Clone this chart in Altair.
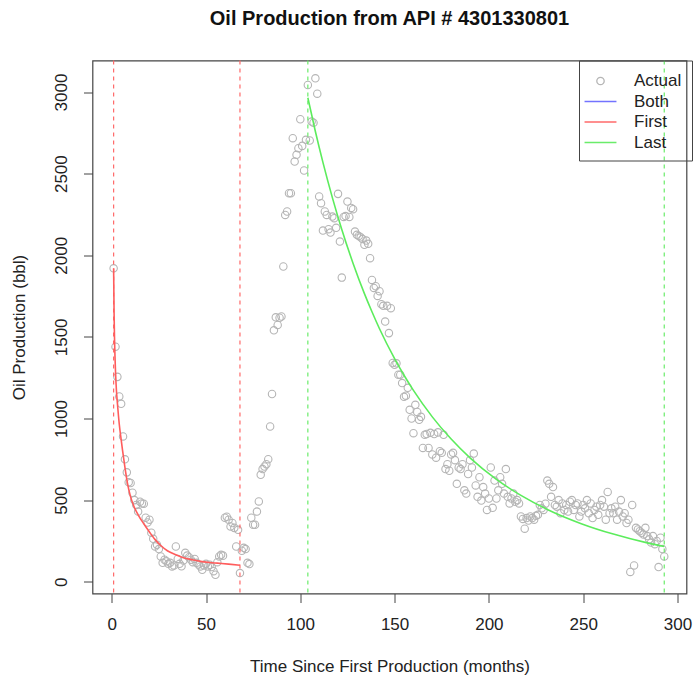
import altair as alt
import pandas as pd

# ---------------- data ----------------
oil = [
    1920, 1440, 1255, 1135, 1090, 890, 750, 670, 610, 605,
    545, 500, 470, 430, 490, 480, 478, 392, 363, 380,
    300, 263, 216, 227, 200, 155, 116, 135, 125, 110,
    116, 94, 100, 216, 140, 110, 95, 130, 177, 160,
    150, 135, 120, 140, 116, 105, 94, 73, 100, 110,
    94, 104, 90, 65, 43, 120, 155, 165, 160, 392,
    398, 380, 339, 360, 330, 216, 318, 53, 190, 208,
    200, 116, 108, 392, 349, 349, 430, 492, 655, 690,
    706, 720, 751, 951, 1150, 1540, 1620, 1573, 1617, 1625,
    1931, 2247, 2268, 2380, 2380, 2717, 2574, 2615, 2656, 2833,
    2670, 2519, 2707, 3043, 2703, 2819, 2812, 3084, 2990, 2360,
    2319, 2151, 2268, 2247, 2160, 2139, 2237, 2227, 2168, 2376,
    2084, 1863, 2235, 2240, 2329, 2235, 2290, 2282, 2145, 2125,
    2118, 2110, 2100, 2064, 2090, 2070, 1982, 1849, 1800, 1810,
    1751, 1780, 1700, 1690, 1594, 1690, 1523, 1676, 1340, 1329,
    1338, 1268, 1268, 1217, 1133, 1140, 1188, 1053, 1000, 910,
    1084, 1040, 992, 1010, 820, 900, 905, 820, 912, 780,
    905, 760, 915, 800, 790, 900, 690, 720, 680, 780,
    790, 745, 600, 700, 690, 720, 560, 540, 660, 745,
    700, 785, 590, 520, 640, 497, 580, 540, 440, 510,
    700, 453, 620, 510, 560, 640, 600, 540, 690, 520,
    480, 510, 540, 490, 500, 480, 400, 385, 325, 390,
    375, 400, 390, 380, 404, 410, 470, 450, 440, 478,
    620, 600, 520, 580, 470, 460, 500, 420, 480, 440,
    470, 430, 490, 500, 440, 470, 480, 400, 430, 470,
    450, 500, 420, 480, 390, 440, 460, 410, 470, 500,
    460, 380, 550, 420, 450, 420, 460, 380, 430, 500,
    400, 420, 360, 380, 60, 470, 100, 330, 320, 310,
    300, 290, 330, 280, 260, 240, 280, 230, 250, 90,
    270, 200, 155,
]
months = list(range(1, len(oil) + 1))

# fitted decline curve of the first segment
first_t = [1, 1.25, 1.5, 2, 2.5, 3, 4, 5, 5.7, 7, 8.3, 10, 11.8, 14, 17,
           20, 23, 26, 29.5, 34, 38, 43, 47, 52, 56, 62, 68]
first_q = [1920, 1640, 1480, 1290, 1170, 1095, 965, 870, 808, 700, 606, 520,
           461, 410, 355, 305, 258, 222, 190, 165, 147, 134, 125, 118, 114,
           108, 101]

# fitted decline curve of the last segment
last_t = [104, 108, 112, 117, 122, 128, 134, 138, 142, 150, 155, 160, 170,
          180, 190, 204, 217, 231, 249, 266, 284, 293]
last_q = [2965, 2758, 2569, 2353, 2158, 1950, 1765, 1654, 1550, 1367, 1265,
          1172, 1010, 874, 759, 627, 529, 443, 356, 292, 238, 216]

first_bounds = [1, 68]
last_bounds = [104, 293]

series_names = ["Actual", "Both", "First", "Last"]
series_colors = ["#b5b5b5", "#7373ff", "#ff6a6a", "#6aec6a"]

x_ticks = [0, 50, 100, 150, 200, 250, 300]
y_ticks = [0, 500, 1000, 1500, 2000, 2500, 3000]

# ---------------- chart ----------------
FONT = "Liberation Sans"
circle_path = "M-0.39,0A0.39,0.39,0,1,1,0.39,0A0.39,0.39,0,1,1,-0.39,0Z"
stroke_path = "M-1.68,0H1.68"
legend_shapes = [circle_path, stroke_path, stroke_path, stroke_path]

actual_df = pd.DataFrame({"x": months, "y": oil, "series": "Actual"})
first_df = pd.DataFrame({"x": first_t, "y": first_q})
last_df = pd.DataFrame({"x": last_t, "y": last_q})
first_b_df = pd.DataFrame({"x": first_bounds})
last_b_df = pd.DataFrame({"x": last_bounds})

xs = alt.Scale(domain=[-10.2, 304.8], nice=False, zero=False)
ys = alt.Scale(domain=[-72, 3193], nice=False, zero=False)

x_axis = alt.Axis(
    values=x_ticks, format="d", domain=False, grid=False, tickSize=9,
    tickColor="#444444",
    labelFontSize=17, labelFont=FONT, labelColor="#222222", labelPadding=22,
    labelBaseline="middle", labelFlush=False, labelOverlap=False,
    titleFontSize=17, titleFont=FONT, titleFontWeight="normal",
    titleColor="#222222", titleY=73, titleBaseline="middle",
)
y_axis = alt.Axis(
    values=y_ticks, format="d", domain=False, grid=False, tickSize=9,
    tickColor="#444444",
    labelFontSize=17, labelFont=FONT, labelColor="#222222", labelPadding=22,
    labelAngle=270, labelAlign="center", labelBaseline="middle",
    labelFlush=False, labelOverlap=False,
    titleFontSize=17, titleFont=FONT, titleFontWeight="normal",
    titleColor="#222222", titleX=-73, titleY=266.5, titleAngle=270,
    titleAlign="center", titleBaseline="middle",
)

X = alt.X("x:Q", scale=xs, axis=x_axis, title="Time Since First Production (months)")
Y = alt.Y("y:Q", scale=ys, axis=y_axis, title="Oil Production (bbl)")

legend = alt.Legend(
    title=None, orient="none", legendX=486.5, legendY=0,
    padding=10, strokeColor="#444444", symbolSize=361, symbolStrokeWidth=1.3,
    symbolOffset=1, labelOffset=23, rowPadding=1.5,
    labelFontSize=17, labelFont=FONT, labelColor="#222222",
    labelBaseline="middle",
)

points = alt.Chart(actual_df).mark_point(
    filled=False, size=361, strokeWidth=1.1, opacity=1
).encode(
    x=X, y=Y,
    color=alt.Color("series:N",
                    scale=alt.Scale(domain=series_names, range=series_colors),
                    legend=legend),
    shape=alt.Shape("series:N",
                    scale=alt.Scale(domain=series_names, range=legend_shapes),
                    legend=legend),
)

first_rules = alt.Chart(first_b_df).mark_rule(
    color="#ff6a6a", strokeWidth=1.2, strokeDash=[4, 4]
).encode(x=X)
last_rules = alt.Chart(last_b_df).mark_rule(
    color="#6aec6a", strokeWidth=1.2, strokeDash=[4, 4]
).encode(x=X)

first_line = alt.Chart(first_df).mark_line(
    color="#ff5c5c", strokeWidth=1.6, interpolate="monotone"
).encode(x=X, y=Y)
last_line = alt.Chart(last_df).mark_line(
    color="#5cec5c", strokeWidth=1.6, interpolate="monotone"
).encode(x=X, y=Y)

chart = alt.layer(
    points, first_rules, last_rules, first_line, last_line
).properties(
    width=594, height=533,
    title=alt.TitleParams(
        "Oil Production from API # 4301330801", fontSize=20, font=FONT,
        fontWeight="bold", color="#111111", anchor="middle", offset=31,
    ),
    autosize=alt.AutoSizeParams(type="none"),
    padding={"left": 92.5, "top": 60.5, "right": 7.5, "bottom": 83.5},
).configure(
    background="white",
    view=alt.ViewConfig(stroke="#444444", strokeWidth=1.2),
)

chart.save("out.html", embed_options={"renderer": "svg", "actions": False})
